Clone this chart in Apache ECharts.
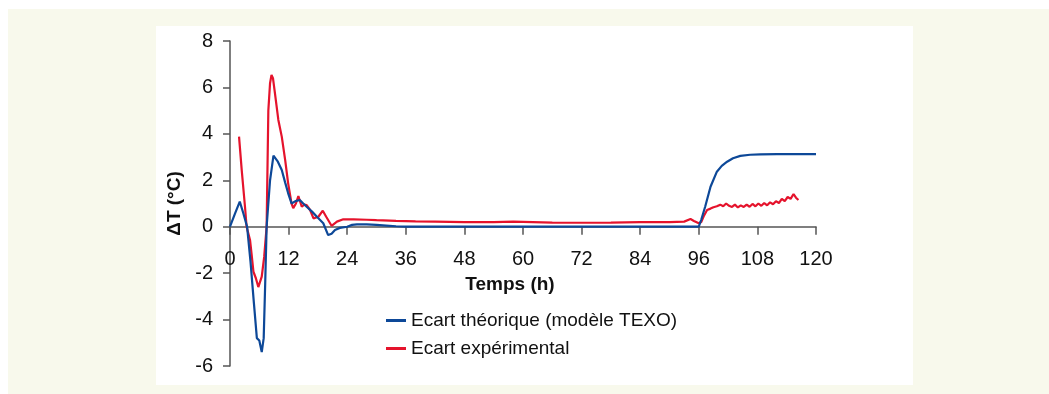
<!DOCTYPE html>
<html>
<head>
<meta charset="utf-8">
<script src="https://cdn.jsdelivr.net/npm/echarts@6/dist/echarts.min.js"></script>
<style>
  html, body { margin: 0; padding: 0; background: #ffffff; }
  #frame { position: absolute; left: 8px; top: 9px; width: 1041px; height: 385px; background: #f8f9ec; }
  #panel { position: absolute; left: 156px; top: 26px; width: 757px; height: 359px; background: #ffffff; }
  #chart { position: absolute; left: 0; top: 0; width: 1049px; height: 394px; }
</style>
</head>
<body>
<div id="frame"></div>
<div id="panel"></div>
<div id="chart"></div>
<script>
// time in hours, temperature gap in °C
var xTicks = [0, 12, 24, 36, 48, 60, 72, 84, 96, 108, 120];
var yTicks = [-6, -4, -2, 0, 2, 4, 6, 8];

var ecartTheorique = [
  [0, 0], [1, 0.55], [2, 1.08], [2.7, 0.6], [3.5, 0], [4.2, -1.5], [4.9, -3.3],
  [5.5, -4.8], [6, -4.9], [6.5, -5.4], [6.9, -4.8], [7.2, -2.5], [7.5, 0],
  [8.2, 2.0], [8.9, 3.06], [9.8, 2.8], [10.6, 2.44], [11.3, 1.9], [11.9, 1.45],
  [12.6, 1.0], [13.4, 1.1], [14.3, 1.15], [15.0, 1.0], [15.7, 0.86], [16.8, 0.65],
  [17.8, 0.43], [19.1, 0.15], [20.1, -0.36], [20.8, -0.3], [21.5, -0.14],
  [22.5, -0.05], [24, 0], [25, 0.08], [26, 0.1], [28, 0.1], [30, 0.08],
  [32, 0.05], [34, 0.02], [36, 0], [60, 0], [96, 0], [96.5, 0.3], [97.3, 0.86],
  [98.4, 1.72], [99.7, 2.37], [100.7, 2.62], [101.8, 2.8], [103, 2.95],
  [104.5, 3.05], [106.5, 3.1], [108.6, 3.12], [112, 3.13], [120, 3.13]
];

var ecartExperimental = [
  [1.85, 3.88], [2.4, 2.44], [3.07, 0.86], [3.4, 0], [4.1, -0.57], [4.4, -1.14],
  [4.8, -1.94], [5.3, -2.22], [5.8, -2.6], [6.5, -2.15], [7.0, -1.3], [7.5, 0],
  [7.85, 5.0], [8.2, 6.18], [8.5, 6.54], [8.8, 6.4], [9.2, 5.75], [9.9, 4.6],
  [10.6, 3.88], [11.3, 2.87], [11.9, 1.88], [12.6, 1.0], [12.95, 0.8], [13.5, 1.0],
  [14.0, 1.32], [14.7, 0.86], [15.2, 0.95], [15.7, 0.93], [16.4, 0.72],
  [17.1, 0.36], [18.1, 0.43], [19.0, 0.69], [19.7, 0.43], [20.8, 0.04],
  [21.9, 0.22], [23.2, 0.32], [25.3, 0.32], [28, 0.3], [30, 0.28], [34, 0.25],
  [38, 0.23], [42, 0.22], [48, 0.2], [54, 0.2], [58, 0.22], [60, 0.21],
  [66, 0.18], [72, 0.17], [78, 0.18], [84, 0.2], [90, 0.2], [93, 0.22],
  [94.3, 0.33], [95, 0.25], [96, 0.15], [96.5, 0.2], [97, 0.45], [97.7, 0.72],
  [98.4, 0.78], [99, 0.84], [99.7, 0.88], [100.4, 0.95], [101, 0.88], [101.6, 1.0],
  [102.2, 0.9], [102.8, 0.85], [103.4, 0.95], [104, 0.83], [104.6, 0.92],
  [105.2, 0.85], [105.8, 0.95], [106.4, 0.86], [107, 0.98], [107.6, 0.88],
  [108.2, 1.0], [108.8, 0.9], [109.4, 1.02], [110, 0.92], [110.6, 1.05],
  [111.2, 0.97], [111.8, 1.1], [112.4, 1.02], [113, 1.2], [113.6, 1.1],
  [114.2, 1.28], [114.8, 1.2], [115.4, 1.41], [115.9, 1.25], [116.4, 1.15]
];

var font = "Liberation Sans, Arial, sans-serif";
var axisGrey = "#555555";

var gridTop = 41, gridBottom = 28, chartH = 394;
var yMin = yTicks[0], yMax = yTicks[yTicks.length - 1];
// the time axis sits on the 0 °C line, so lift it from the grid bottom
var plotH = chartH - gridTop - gridBottom;
var xAxisLift = -plotH * (0 - yMin) / (yMax - yMin);

var myChart = echarts.init(document.getElementById("chart"));
myChart.setOption({
  animation: false,
  textStyle: { fontFamily: font, color: "#111" },
  grid: { left: 230, right: 233, top: gridTop, bottom: gridBottom, outerBoundsMode: "none", containLabel: false },
  legend: {
    orient: "vertical",
    left: 381,
    top: 306,
    itemWidth: 20,
    itemHeight: 3,
    itemGap: 9,
    icon: "rect",
    textStyle: { fontSize: 19, color: "#111", fontFamily: font },
    data: ["Ecart théorique (modèle TEXO)", "Ecart expérimental"]
  },
  xAxis: {
    type: "value",
    min: xTicks[0],
    max: xTicks[xTicks.length - 1],
    interval: 12,
    offset: xAxisLift,
    name: "Temps (h)",
    nameLocation: "middle",
    nameGap: 49,
    nameTextStyle: { fontSize: 19, fontWeight: "bold", color: "#111", padding: [0, 26, 0, 0] },
    axisLine: { onZero: false, lineStyle: { color: axisGrey, width: 1.5 } },
    axisTick: { show: true, length: 8, lineStyle: { color: axisGrey, width: 1.5 } },
    axisLabel: { fontSize: 20, color: "#111", margin: 23 },
    splitLine: { show: false }
  },
  yAxis: {
    type: "value",
    min: yMin,
    max: yMax,
    interval: 2,
    name: "ΔT (°C)",
    nameLocation: "middle",
    nameGap: 44,
    nameTextStyle: { fontSize: 19, fontWeight: "bold", color: "#111" },
    axisLine: { show: true, lineStyle: { color: axisGrey, width: 1.5 } },
    axisTick: { show: true, length: 7, lineStyle: { color: axisGrey, width: 1.5 } },
    axisLabel: { fontSize: 20, color: "#111", margin: 17 },
    splitLine: { show: false }
  },
  series: [
    {
      name: "Ecart théorique (modèle TEXO)",
      type: "line",
      data: ecartTheorique,
      color: "#0d4898",
      showSymbol: false,
      lineStyle: { width: 2.2 },
      z: 3
    },
    {
      name: "Ecart expérimental",
      type: "line",
      data: ecartExperimental,
      color: "#e5132c",
      showSymbol: false,
      lineStyle: { width: 2.2 },
      z: 2
    }
  ]
});
</script>
</body>
</html>
